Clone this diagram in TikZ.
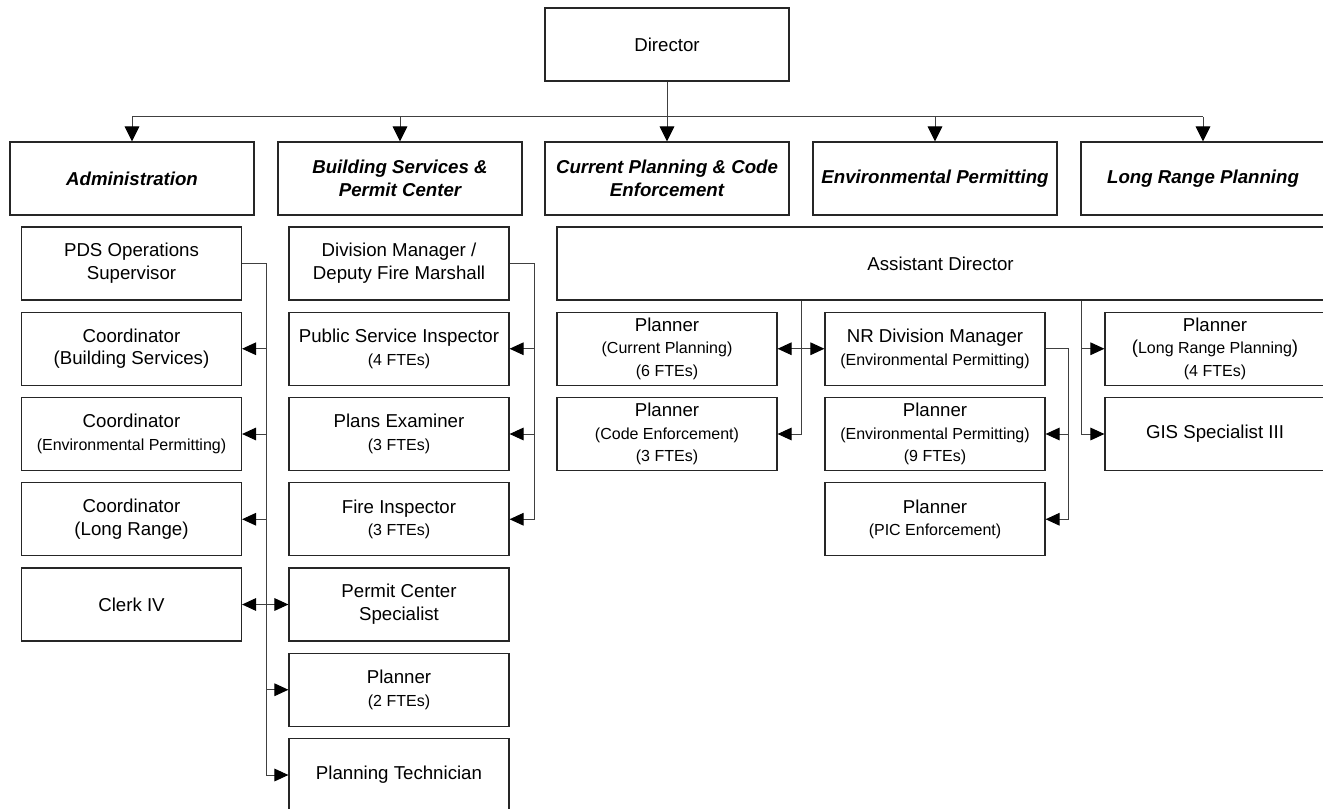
\documentclass[tikz,border=0pt]{standalone}
\usepackage{fontspec}
\setmainfont{Liberation Sans}
\usetikzlibrary{arrows.meta}
\newcommand\sm[1]{{\fontsize{12}{14.5}\selectfont #1}}
\begin{document}
\begin{tikzpicture}[x=0.75pt,y=-0.75pt,
  every node/.style={font=\fontsize{14}{17}\selectfont},
  box/.style={draw=black!85,line width=0.9pt,fill=white,inner sep=0pt,align=center,minimum height=54.75pt},
  cbox/.style={box,minimum width=165pt},
  tbox/.style={box,minimum width=183pt,font=\fontsize{14}{17}\selectfont\bfseries\itshape},
  conn/.style={draw=black!75,line width=0.75pt},
  arr/.style={conn,-{Triangle[length=10.5pt,width=9.5pt,fill=black,color=black]}},
  tarr/.style={conn,-{Triangle[length=11.25pt,width=11pt,fill=black,color=black]}}]
\useasboundingbox (0,0) rectangle (1323,809);
\clip (0,0) rectangle (1323,809);

% top level
\node[tbox] (dir) at (667,44.5) {\mdseries\upshape Director};
\node[tbox] (adm) at (132,178.5) {Administration};
\node[tbox] (bsp) at (400,178.5) {Building Services \&\\Permit Center};
\node[tbox] (cpe) at (667,178.5) {Current Planning \& Code\\Enforcement};
\node[tbox] (env) at (935,178.5) {Environmental Permitting};
\node[tbox] (lrp) at (1203,178.5) {Long Range Planning};

% administration column
\node[cbox] (pds) at (131.5,263.5) {PDS Operations\\Supervisor};
\node[cbox] (cbs) at (131.5,348.75) {Coordinator\\(Building Services)};
\node[cbox] (cep) at (131.5,434) {Coordinator\\\sm{(Environmental Permitting)}};
\node[cbox] (clr) at (131.5,519.25) {Coordinator\\(Long Range)};
\node[cbox] (clerk) at (131.5,604.5) {Clerk IV};

% building services column
\node[cbox] (dm) at (399,263.5) {Division Manager /\\Deputy Fire Marshall};
\node[cbox] (psi) at (399,348.75) {Public Service Inspector\\\sm{(4 FTEs)}};
\node[cbox] (pe) at (399,434) {Plans Examiner\\\sm{(3 FTEs)}};
\node[cbox] (fi) at (399,519.25) {Fire Inspector\\\sm{(3 FTEs)}};
\node[cbox] (pcs) at (399,604.5) {Permit Center\\Specialist};
\node[cbox] (pl) at (399,689.75) {Planner\\\sm{(2 FTEs)}};
\node[cbox] (pt) at (399,775) {Planning Technician};

% right part
\node[box,minimum width=575.25pt] (ad) at (940.5,263.5) {Assistant Director};
\node[cbox] (pcp) at (667,348.75) {Planner\\\sm{(Current Planning)}\\\sm{(6 FTEs)}};
\node[cbox] (pce) at (667,434) {Planner\\\sm{(Code Enforcement)}\\\sm{(3 FTEs)}};
\node[cbox] (nrdm) at (935,348.75) {NR Division Manager\\\sm{(Environmental Permitting)}};
\node[cbox] (pep) at (935,434) {Planner\\\sm{(Environmental Permitting)}\\\sm{(9 FTEs)}};
\node[cbox] (ppic) at (935,519.25) {Planner\\\sm{(PIC Enforcement)}};
\node[cbox] (plr) at (1215,348.75) {Planner\\(\sm{Long Range Planning})\\\sm{(4 FTEs)}};
\node[cbox] (gis) at (1215,434) {GIS Specialist III};

% bus coordinates
\coordinate (busT) at (0,117);
\coordinate (busA) at (266,0);
\coordinate (busB) at (534,0);
\coordinate (busC) at (801.5,0);
\coordinate (busN) at (1068.5,0);
\coordinate (busL) at (1081.5,0);

% top connectors
\draw[tarr] (dir.south) -- (cpe.north);
\draw[conn] (adm.north |- busT) -- (lrp.north |- busT);
\foreach \n in {adm,bsp,env,lrp} \draw[tarr] (\n.north |- busT) -- (\n.north);

% administration bus
\draw[arr] (pds.east) -- (pds.east -| busA) |- (pt.west);
\foreach \n in {cbs,cep,clr,clerk} \draw[arr] (\n.east -| busA) -- (\n.east);
\foreach \n in {pcs,pl} \draw[arr] (\n.west -| busA) -- (\n.west);

% building bus
\draw[arr] (dm.east) -- (dm.east -| busB) |- (fi.east);
\foreach \n in {psi,pe} \draw[arr] (\n.east -| busB) -- (\n.east);

% current planning bus
\draw[arr] (ad.south -| busC) |- (pce.east);
\draw[arr] (pcp.east -| busC) -- (pcp.east);
\draw[arr] (pcp.east -| busC) -- (nrdm.west);

% NR bus
\draw[arr] (nrdm.east) -- (nrdm.east -| busN) |- (ppic.east);
\draw[arr] (pep.east -| busN) -- (pep.east);

% long range bus
\draw[arr] (ad.south -| busL) |- (gis.west);
\draw[arr] (plr.west -| busL) -- (plr.west);
\end{tikzpicture}
\end{document}
